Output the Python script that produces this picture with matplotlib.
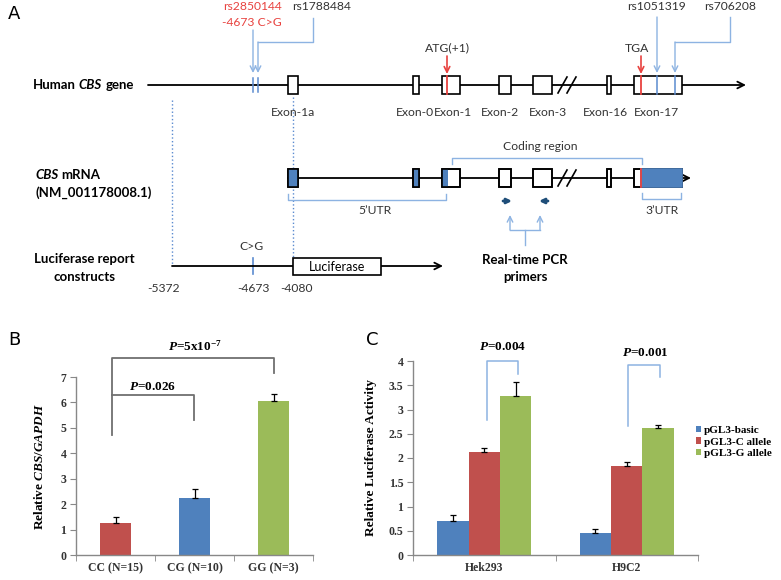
import matplotlib
matplotlib.use("Agg")
import matplotlib.pyplot as plt
from matplotlib.patches import Rectangle

plt.rcParams['mathtext.fontset'] = 'custom'
plt.rcParams['mathtext.rm'] = 'Liberation Serif:bold'
plt.rcParams['mathtext.it'] = 'Liberation Serif:bold:italic'
plt.rcParams['mathtext.bf'] = 'Liberation Serif:bold'
plt.rcParams['axes.unicode_minus'] = False

# ---- panel A: gene map (pixel positions along the drawing) ----
exon_names = ["Exon-1a", "Exon-0", "Exon-1", "Exon-2", "Exon-3", "Exon-16", "Exon-17"]
exon_start = [288, 413, 442, 499, 533, 607, 634]
exon_end = [298, 419, 460, 511, 552, 611, 682]
exon_label_x = [293, 415, 453, 500, 548, 605, 656]
mrna_blue = [(288, 298), (414, 419), (442, 448), (641, 682)]

# ---- panel B ----
genotypes = ["CC (N=15)", "CG (N=10)", "GG (N=3)"]
expr = [1.25, 2.25, 6.05]
expr_err = [0.25, 0.35, 0.30]

# ---- panel C ----
cells = ["Hek293", "H9C2"]
constructs = ["pGL3-basic", "pGL3-C allele", "pGL3-G allele"]
luc_basic = [0.70, 0.46]
luc_c = [2.13, 1.84]
luc_g = [3.27, 2.62]
err_basic = [0.12, 0.07]
err_c = [0.07, 0.07]
err_g = [0.30, 0.07]

RED = "#C0504D"
BLUE = "#4F81BD"
GREEN = "#9BBB59"
LB = "#8DB3E2"
SNPRED = "#E8423F"
TXT = "#333333"

fig = plt.figure(figsize=(7.81, 5.80), dpi=100)
ax = fig.add_axes([0, 0, 1, 1])
ax.set_xlim(0, 781)
ax.set_ylim(580, 0)
ax.axis("off")
renderer = fig.canvas.get_renderer()

fa = "Lato"
gene_y, mrna_y, luc_y = 85, 178, 266
h = 9  # half box height


def seq_text(x, y, parts, size=9.5):
    # draw bold pieces one after another, some italic
    for s, italic in parts:
        t = ax.text(x, y, s, fontsize=size, fontweight="bold",
                    style="italic" if italic else "normal",
                    ha="left", va="center", family=fa)
        x += t.get_window_extent(renderer).width + 3


def arrow_line(x0, x1, y):
    ax.annotate("", xy=(x1, y), xytext=(x0, y),
                arrowprops=dict(arrowstyle="->", color="black", lw=1.3,
                                shrinkA=0, shrinkB=0, mutation_scale=12))


def down_arrow(x, y0, y1, color, lw=1.0):
    ax.annotate("", xy=(x, y1), xytext=(x, y0),
                arrowprops=dict(arrowstyle="->", color=color, lw=lw,
                                shrinkA=0, shrinkB=0, mutation_scale=10))


def breakmark(y):
    for x in (558, 567):
        ax.plot([x, x + 9], [y + 8, y - 8], color="black", lw=1.2)


def small(x, y, s, color=TXT, size=8.7):
    ax.text(x, y, s, fontsize=size, color=color, ha="center", va="center", family=fa)


ax.text(8, 14, "A", fontsize=13, va="center", ha="left", family="DejaVu Sans")

# gene row
arrow_line(148, 746, gene_y)
for s, e in zip(exon_start, exon_end):
    ax.add_patch(Rectangle((s, gene_y - h), e - s, 2 * h, facecolor="white",
                           edgecolor="black", lw=1.2, zorder=3))
for name, x in zip(exon_names, exon_label_x):
    small(x, 112, name)
breakmark(gene_y)
ax.plot([447, 447], [gene_y - h, gene_y + h], color=SNPRED, lw=1.3, zorder=4)
ax.plot([641, 641], [gene_y - h, gene_y + h], color=SNPRED, lw=1.3, zorder=4)
for x in (657, 675):
    ax.plot([x, x], [gene_y - h, gene_y + h], color="#5B8BD0", lw=1.1, zorder=4)
for x in (253, 258):
    ax.plot([x, x], [gene_y - 7, gene_y + 7], color="#5B8BD0", lw=1.1, zorder=4)

seq_text(33, gene_y, [("Human", False), ("CBS", True), ("gene", False)])

# SNP callouts
small(252, 7, "rs2850144", SNPRED)
small(252, 22, "-4673 C>G", SNPRED)
down_arrow(253, 30, 73, LB)
small(322, 7, "rs1788484")
ax.plot([313, 313, 258], [18, 42, 42], color=LB, lw=1.0)
down_arrow(258, 42, 73, LB)
small(657, 6, "rs1051319")
down_arrow(657, 17, 73, LB)
small(730, 6, "rs706208")
ax.plot([730, 730, 675], [17, 42, 42], color=LB, lw=1.0)
down_arrow(675, 42, 73, LB)
small(447, 48, "ATG(+1)")
down_arrow(447, 56, 74, SNPRED, 1.2)
small(637, 48, "TGA")
down_arrow(641, 56, 74, SNPRED, 1.2)

# dotted guides
ax.plot([172, 172], [100, 265], color="#5B8BD0", lw=1.0, ls=":")
ax.plot([293, 293], [97, 258], color="#5B8BD0", lw=1.0, ls=":")

# mRNA row
arrow_line(288, 691, mrna_y)
for s, e in zip(exon_start, exon_end):
    ax.add_patch(Rectangle((s, mrna_y - h), e - s, 2 * h, facecolor="white",
                           edgecolor="black", lw=1.2, zorder=3))
for s, e in mrna_blue:
    ax.add_patch(Rectangle((s, mrna_y - h), e - s, 2 * h, facecolor=BLUE,
                           edgecolor="none", zorder=3.5))
for s, e in zip(exon_start, exon_end):
    ax.add_patch(Rectangle((s, mrna_y - h), e - s, 2 * h, facecolor="none",
                           edgecolor="black", lw=1.2, zorder=4))
ax.add_patch(Rectangle((641, mrna_y - h), 41, 2 * h, facecolor=BLUE,
                       edgecolor=BLUE, lw=1.2, zorder=4.5))
ax.plot([641, 641], [mrna_y - h, mrna_y + h], color=SNPRED, lw=1.3, zorder=5)
breakmark(mrna_y)
seq_text(35, 175, [("CBS", True), ("mRNA", False)])
seq_text(35, 193, [("(NM_001178008.1)", False)])

# brackets
ax.plot([452, 452, 642, 642], [164, 158, 158, 164], color=LB, lw=1.0)
small(540, 146, "Coding region")
ax.plot([288, 288, 446, 446], [194, 200, 200, 194], color=LB, lw=1.0)
small(375, 211, "5\u2019UTR")
ax.plot([642, 642, 681, 681], [193, 199, 199, 193], color=LB, lw=1.0)
small(662, 211, "3\u2019UTR")

# primers
for x0, x1 in ((503, 512), (548, 539)):
    ax.annotate("", xy=(x1, 201), xytext=(x0, 201),
                arrowprops=dict(arrowstyle="-|>", color="#1F4E79", lw=2.0,
                                shrinkA=0, shrinkB=0, mutation_scale=7))
for x in (510, 540):
    down_arrow(x, 230, 215, LB)
ax.plot([510, 540], [230, 230], color=LB, lw=1.0)
ax.plot([525, 525], [230, 245], color=LB, lw=1.0)
ax.text(525, 260, "Real-time PCR", fontsize=9.5, fontweight="bold", ha="center", va="center", family=fa)
ax.text(525, 277, "primers", fontsize=9.5, fontweight="bold", ha="center", va="center", family=fa)

# luciferase construct row
arrow_line(172, 443, luc_y)
ax.plot([253, 253], [luc_y - 8, luc_y + 8], color="#5B8BD0", lw=1.2)
small(252, 246, "C>G")
ax.add_patch(Rectangle((293, luc_y - 8.5), 88, 17, facecolor="white",
                       edgecolor="black", lw=1.2, zorder=3))
ax.text(337, luc_y + 1, "Luciferase", fontsize=9, ha="center", va="center", family=fa, zorder=4)
for lab, x in (("-5372", 164), ("-4673", 253), ("-4080", 296)):
    small(x, 288, lab)
ax.text(84, 259, "Luciferase report", fontsize=9.5, fontweight="bold", ha="center", va="center", family=fa)
ax.text(84, 277, "constructs", fontsize=9.5, fontweight="bold", ha="center", va="center", family=fa)

# ---- panel B ----
serif = "Liberation Serif"
SP = "#888888"


def excel_axes(a):
    for s in ("top", "right"):
        a.spines[s].set_visible(False)
    for s in ("left", "bottom"):
        a.spines[s].set_color(SP)
        a.spines[s].set_linewidth(1.0)
    a.tick_params(axis="y", direction="out", length=4, color=SP, labelsize=8.5, pad=3)
    a.tick_params(axis="x", which="major", length=0, labelsize=8.5, pad=5)
    a.tick_params(axis="x", which="minor", direction="out", length=4, color=SP)
    for lab in a.get_yticklabels() + a.get_xticklabels():
        lab.set_family(serif)
        lab.set_fontweight("bold")
        lab.set_color(TXT)


ax.text(8, 340, "B", fontsize=13, va="center", ha="left", family="DejaVu Sans")
ax.text(366, 340, "C", fontsize=13, va="center", ha="left", family="DejaVu Sans")

axb = fig.add_axes([76 / 781, 25 / 580, 237 / 781, 178 / 580])
xb = [0.5, 1.5, 2.5]
axb.bar(xb, expr, width=0.4, color=[RED, BLUE, GREEN], zorder=2)
axb.errorbar(xb, expr, yerr=[[0, 0, 0], expr_err], fmt="none", ecolor="black",
             elinewidth=0.9, capsize=2, capthick=0.9, zorder=3)
axb.set_xlim(0, 3)
axb.set_ylim(0, 7)
axb.set_yticks(range(8))
axb.set_xticks(xb)
axb.set_xticklabels(genotypes)
axb.set_xticks([0, 1, 2, 3], minor=True)
excel_axes(axb)
axb.set_ylabel(r"Relative $\mathit{CBS}$/$\mathit{GAPDH}$", family=serif,
               fontweight="bold", fontsize=9.5, labelpad=10)
g = "#6F6F6F"
axb.plot([0.46, 0.46, 2.5, 2.5], [4.72, 7.75, 7.75, 7.16], color=g, lw=1.3, clip_on=False)
axb.plot([0.46, 1.49, 1.49], [6.29, 6.29, 5.31], color=g, lw=1.3, clip_on=False)
axb.text(1.5, 8.2, r"$\mathit{P}$=5x10$^{-7}$", ha="center", va="center",
         family=serif, fontweight="bold", fontsize=9.5)
axb.text(0.97, 6.62, r"$\mathit{P}$=0.026", ha="center", va="center",
         family=serif, fontweight="bold", fontsize=9.5)

# ---- panel C ----
axc = fig.add_axes([413 / 781, 25 / 580, 285 / 781, 194 / 580])
xc = [0.5, 1.5]
w = 0.22
series = [(luc_basic, err_basic, BLUE), (luc_c, err_c, RED), (luc_g, err_g, GREEN)]
handles = []
for i, (vals, errs, col) in enumerate(series):
    xs = [x + (i - 1) * w for x in xc]
    b = axc.bar(xs, vals, width=w, color=col, zorder=2)
    handles.append(b)
    axc.errorbar(xs, vals, yerr=[[0, 0], errs], fmt="none", ecolor="black",
                 elinewidth=0.9, capsize=2, capthick=0.9, zorder=3)
axc.set_xlim(0, 2)
axc.set_ylim(0, 4)
axc.set_yticks([0, 0.5, 1, 1.5, 2, 2.5, 3, 3.5, 4])
axc.set_yticklabels(["0", "0.5", "1", "1.5", "2", "2.5", "3", "3.5", "4"])
axc.set_xticks(xc)
axc.set_xticklabels(cells)
axc.set_xticks([0, 1, 2], minor=True)
excel_axes(axc)
axc.set_ylabel("Relative Luciferase Activity", family=serif, fontweight="bold",
               fontsize=9.5, labelpad=8)
axc.plot([0.52, 0.52, 0.74, 0.74], [2.78, 4.0, 4.0, 3.73], color=LB, lw=1.1, clip_on=False)
axc.plot([1.51, 1.51, 1.73, 1.73], [2.67, 3.91, 3.91, 3.66], color=LB, lw=1.1, clip_on=False)
axc.text(0.63, 4.28, r"$\mathit{P}$=0.004", ha="center", va="center",
         family=serif, fontweight="bold", fontsize=9.5)
axc.text(1.63, 4.16, r"$\mathit{P}$=0.001", ha="center", va="center",
         family=serif, fontweight="bold", fontsize=9.5)
axc.legend(handles, constructs, loc="center left", bbox_to_anchor=(688 / 781, 1 - 442 / 580),
           bbox_transform=fig.transFigure, frameon=False, handlelength=0.5,
           handleheight=0.5, handletextpad=0.2, labelspacing=0.2, borderpad=0.2,
           prop=dict(family=serif, weight="bold", size=8))

fig.savefig("out.png", dpi=100)
